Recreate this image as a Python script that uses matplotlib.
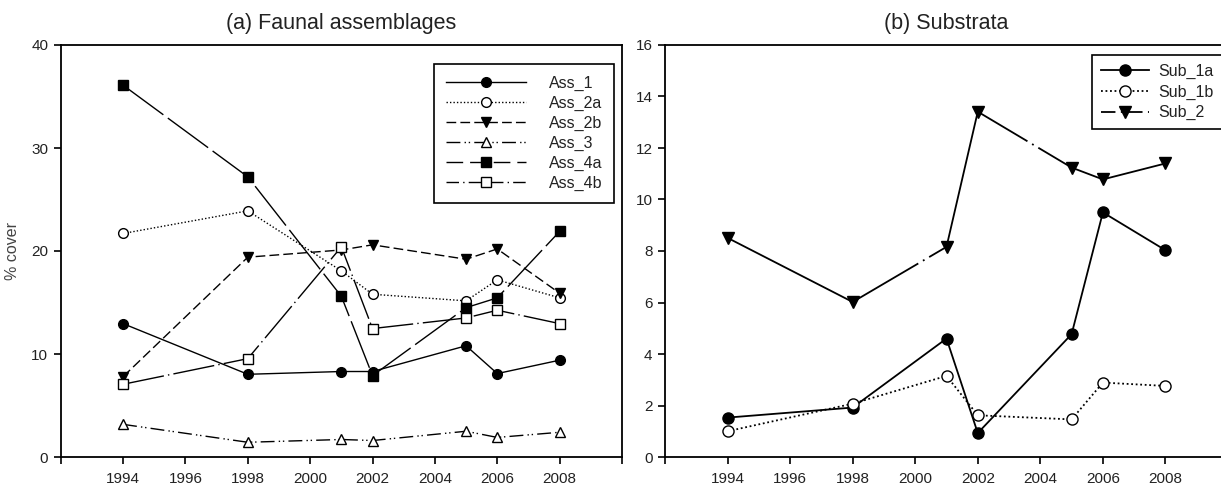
import matplotlib
matplotlib.use("Agg")
import matplotlib.pyplot as plt
from matplotlib.lines import Line2D

plt.rcParams["font.family"] = ["Liberation Sans", "DejaVu Sans"]

# -------------------------------
# Data
# -------------------------------
years = [1994, 1998, 2001, 2002, 2005, 2006, 2008]

ass_1 = [12.95, 8.03, 8.3, 8.3, 10.8, 8.1, 9.4]
ass_2a = [21.7, 23.9, 18.07, 15.8, 15.16, 17.2, 15.45]
ass_2b = [7.8, 19.4, 20.1, 20.6, 19.2, 20.2, 15.9]
ass_3 = [3.17, 1.43, 1.7, 1.6, 2.5, 1.9, 2.4]
ass_4a = [36.1, 27.2, 15.6, 7.9, 14.5, 15.45, 21.9]
ass_4b = [7.06, 9.55, 20.4, 12.47, 13.5, 14.25, 12.95]

sub_1a = [1.53, 1.92, 4.6, 0.93, 4.77, 9.5, 8.03]
sub_1b = [1.0, 2.07, 3.15, 1.62, 1.46, 2.89, 2.76]
sub_2 = [8.51, 6.02, 8.16, 13.41, 11.24, 10.78, 11.4]

xticks = list(range(1992, 2011, 2))
xticklabels = ["" if t in (1992, 2010) else str(t) for t in xticks]

# -------------------------------
# Figure
# -------------------------------
W, H = 1221, 486
fig = plt.figure(figsize=(W / 100, H / 100), dpi=100)

ax1 = fig.add_axes([60.7 / W, 29 / H, 561.3 / W, 412 / H])
ax2 = fig.add_axes([665 / W, 29 / H, 563 / W, 412 / H])

ms = 7
txt = "#222222"


def draw(ax, series, lw, size):
    # plot style on the axes, shorter dash pattern for the legend key
    handles = []
    for name, vals, ls, ls_key, mk, mfc in series:
        ax.plot(years, vals, linestyle=ls, marker=mk, color="k", markerfacecolor=mfc,
                markeredgecolor="k", markersize=size, linewidth=lw)
        handles.append(Line2D([], [], linestyle=ls_key, marker=mk, color="k",
                              markerfacecolor=mfc, markeredgecolor="k",
                              markersize=size, linewidth=lw, label=name))
    return handles


left_series = [
    ("Ass_1", ass_1, "-", "-", "o", "k"),
    ("Ass_2a", ass_2a, (0, (1, 1.5)), (0, (1, 1.5)), "o", "white"),
    ("Ass_2b", ass_2b, (0, (7, 3)), (0, (7, 3)), "v", "k"),
    ("Ass_3", ass_3, (0, (10, 3, 1, 2, 1, 3)), (0, (10, 3, 1, 2, 1, 3)), "^", "white"),
    ("Ass_4a", ass_4a, (0, (36, 4)), (0, (12, 5)), "s", "k"),
    ("Ass_4b", ass_4b, (0, (30, 3, 1, 3)), (0, (9, 3, 1, 3)), "s", "white"),
]
right_series = [
    ("Sub_1a", sub_1a, "-", "-", "o", "k"),
    ("Sub_1b", sub_1b, (0, (1, 1.5)), (0, (1, 1.5)), "o", "white"),
    ("Sub_2", sub_2, (0, (120, 3, 1, 3)), (0, (8, 3, 1, 3)), "v", "k"),
]

h1 = draw(ax1, left_series, 1.0, ms)
h2 = draw(ax2, right_series, 1.3, ms + 1)

for ax, ymax, ystep in [(ax1, 40, 10), (ax2, 16, 2)]:
    ax.set_xlim(1992, 2010)
    ax.set_ylim(0, ymax)
    ax.set_xticks(xticks)
    ax.set_xticklabels(xticklabels)
    ax.set_yticks(range(0, ymax + 1, ystep))
    ax.tick_params(direction="out", length=5, width=1.2, labelsize=11,
                   colors="k", labelcolor=txt)
    ax.tick_params(axis="x", pad=6)
    ax.tick_params(axis="y", pad=4)
    for s in ax.spines.values():
        s.set_linewidth(1.3)

ax1.set_ylabel("% cover", fontsize=11.5, color="#444444", labelpad=8)

fig.text((60.7 + 622) / 2 / W, 1 - 24 / H, "(a) Faunal assemblages",
         ha="center", va="center", fontsize=15.5, color=txt)
fig.text((665 + 1228) / 2 / W, 1 - 24 / H, "(b) Substrata",
         ha="center", va="center", fontsize=15.5, color=txt)

leg1 = ax1.legend(handles=h1, loc="upper right", bbox_to_anchor=(614 / W, 1 - 64 / H),
                  bbox_transform=fig.transFigure, borderaxespad=0,
                  fancybox=False, edgecolor="k", framealpha=1,
                  fontsize=11.5, handlelength=5.0, handletextpad=1.4,
                  labelspacing=0.3, borderpad=0.75)
leg1.get_frame().set_linewidth(1.2)
for t in leg1.get_texts():
    t.set_color(txt)

leg2 = ax2.legend(handles=h2, loc="upper left", bbox_to_anchor=(1092 / W, 1 - 55 / H),
                  bbox_transform=fig.transFigure, borderaxespad=0,
                  fancybox=False, edgecolor="k", framealpha=1,
                  fontsize=11.5, handlelength=3.0, handletextpad=0.6,
                  labelspacing=0.35, borderpad=0.55)
leg2.get_frame().set_linewidth(1.2)
for t in leg2.get_texts():
    t.set_color(txt)

fig.savefig("out.png", dpi=100)
